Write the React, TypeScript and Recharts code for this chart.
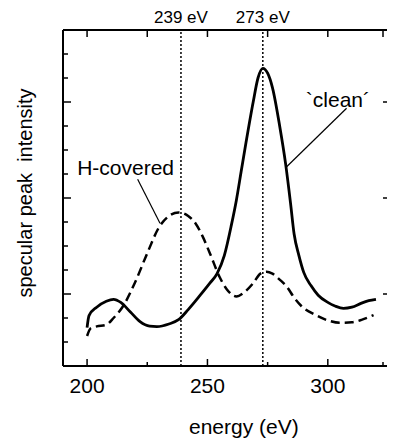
import * as React from 'react';
import { LineChart, Line, XAxis, YAxis, ReferenceLine, ReferenceDot } from 'recharts';

// clean surface, solid curve
const cleanEnergy = [200, 200.8, 204, 208, 211, 214, 218, 222, 226, 229, 234, 238, 242, 247, 251, 254, 257, 260, 262, 264, 266, 269, 271, 273, 275, 277, 280, 282.5, 284.5, 286, 288, 290, 293, 296, 300, 303, 306.5, 310, 314, 317, 320];
const cleanIntensity = [1.6, 2.1, 2.45, 2.7, 2.78, 2.65, 2.25, 1.85, 1.66, 1.64, 1.75, 1.93, 2.35, 2.95, 3.45, 3.85, 4.6, 5.9, 6.9, 8.1, 9.3, 11.0, 12.0, 12.4, 12.2, 11.6, 10.0, 8.4, 6.8, 5.5, 4.6, 3.9, 3.35, 2.95, 2.65, 2.5, 2.4, 2.45, 2.62, 2.72, 2.78];

// H-covered surface, dashed curve
const hEnergy = [200, 201.5, 204, 208, 211, 215, 220, 225, 230, 234, 238, 242, 245, 248, 251, 255, 258, 262, 265, 269, 272, 274.5, 277, 280, 283, 286, 289, 295, 300, 305, 310, 314, 319];
const hIntensity = [1.25, 1.57, 1.65, 1.72, 2.0, 2.5, 3.5, 4.7, 5.8, 6.25, 6.4, 6.25, 5.95, 5.4, 4.7, 3.72, 3.2, 2.9, 3.05, 3.45, 3.85, 3.93, 3.85, 3.6, 3.3, 2.85, 2.5, 2.12, 1.9, 1.8, 1.82, 1.92, 2.12];

const xTicks = [200, 225, 250, 275, 300, 325];
const xLabelled = [200, 250, 300];
const yTicks = [1, 2, 3, 4, 5, 6, 7, 8, 9, 10, 11, 12, 13];
const yMajor = [3, 7, 11];
const peaks = [239, 273];
const peakLabels = ['239 eV', '273 eV'];

const cleanData = cleanEnergy.map((e, i) => ({ energy: e, clean: cleanIntensity[i] }));
const hData = hEnergy.map((e, i) => ({ energy: e, h: hIntensity[i] }));

const font = '"Liberation Sans", Arial, Helvetica, sans-serif';

const BottomTick = (props: any) => {
  const { x, y, payload } = props;
  const major = xLabelled.includes(payload.value);
  return (
    <g>
      <line x1={x} x2={x} y1={y} y2={y - (major ? 7 : 4)} stroke="#000" strokeWidth={1.5} />
      {major && (
        <text x={x} y={y + 27} textAnchor="middle" fontSize={21} fontFamily={font} fill="#000">
          {payload.value}
        </text>
      )}
    </g>
  );
};

const TopTick = (props: any) => {
  const { x, y } = props;
  return <line x1={x} x2={x} y1={y} y2={y + 7} stroke="#000" strokeWidth={1.5} />;
};

const LeftTick = (props: any) => {
  const { x, y, payload } = props;
  const major = yMajor.includes(payload.value);
  return <line x1={x} x2={x + (major ? 8 : 5)} y1={y} y2={y} stroke="#000" strokeWidth={1.5} />;
};

const RightTick = (props: any) => {
  const { x, y } = props;
  return <line x1={x} x2={x - 5} y1={y} y2={y} stroke="#000" strokeWidth={1.5} />;
};

const YTitle = () => (
  <text x={17} y={185} transform="rotate(-90, 17, 185)" textAnchor="middle" dominantBaseline="central"
    fontSize={20} fontFamily={font} fill="#000">
    {'specular peak\u00a0\u00a0intensity'}
  </text>
);

const XTitle = () => (
  <text x={181} y={426} textAnchor="start" fontSize={21} fontFamily={font} fill="#000">
    energy (eV)
  </text>
);

const App = () => {
  return (
    <LineChart width={387} height={432} margin={{ top: 21, right: 0, left: 0, bottom: 0 }}>
      <XAxis xAxisId={0} type="number" dataKey="energy" domain={[190, 325]} ticks={xTicks} allowDataOverflow
        height={74} tickSize={0} tickMargin={0} tickLine={false} tick={<BottomTick />}
        axisLine={{ stroke: '#000', strokeWidth: 2 }} label={{ content: () => <XTitle /> }} />
      <XAxis xAxisId="top" orientation="top" type="number" dataKey="energy" domain={[190, 325]} ticks={xTicks} allowDataOverflow
        height={1} tickSize={0} tickMargin={0} tickLine={false} tick={<TopTick />}
        axisLine={{ stroke: '#000', strokeWidth: 2 }} />
      <YAxis yAxisId={0} type="number" domain={[0, 14]} ticks={yTicks} allowDataOverflow width={55}
        tickSize={0} tickMargin={0} tickLine={false} tick={<LeftTick />}
        axisLine={{ stroke: '#000', strokeWidth: 2 }} label={{ content: () => <YTitle /> }} />
      <YAxis yAxisId="right" orientation="right" type="number" domain={[0, 14]} ticks={yMajor} allowDataOverflow width={7}
        tickSize={0} tickMargin={0} tickLine={false} tick={<RightTick />} axisLine={false} />

      {peaks.map((p, i) => (
        <ReferenceLine key={p} x={p} stroke="#000" strokeWidth={1.5} strokeDasharray="2 2"
          label={{ value: peakLabels[i], position: 'top', offset: 7, fontSize: 17, fill: '#000', fontFamily: font }} />
      ))}

      <Line data={hData} dataKey="h" type="monotone" stroke="#000" strokeWidth={2.5} strokeDasharray="9 5"
        dot={false} activeDot={false} isAnimationActive={false} />
      <Line data={cleanData} dataKey="clean" type="monotone" stroke="#000" strokeWidth={2.8}
        dot={false} activeDot={false} isAnimationActive={false} />

      {/* leader lines for the curve labels */}
      <ReferenceLine segment={[{ x: 221, y: 7.78 }, { x: 230.3, y: 5.95 }]} stroke="#000" strokeWidth={1.2} />
      <ReferenceLine segment={[{ x: 307.8, y: 10.74 }, { x: 282.9, y: 8.3 }]} stroke="#000" strokeWidth={1.2} />
      <ReferenceDot x={216} y={8.25} r={0} stroke="none"
        label={{ value: 'H-covered', position: 'center', fontSize: 21, fill: '#000', fontFamily: font }} />
      <ReferenceDot x={304.2} y={11.1} r={0} stroke="none"
        label={{ value: '`clean´', position: 'center', fontSize: 21, fill: '#000', fontFamily: font }} />
    </LineChart>
  );
};

export default App;
